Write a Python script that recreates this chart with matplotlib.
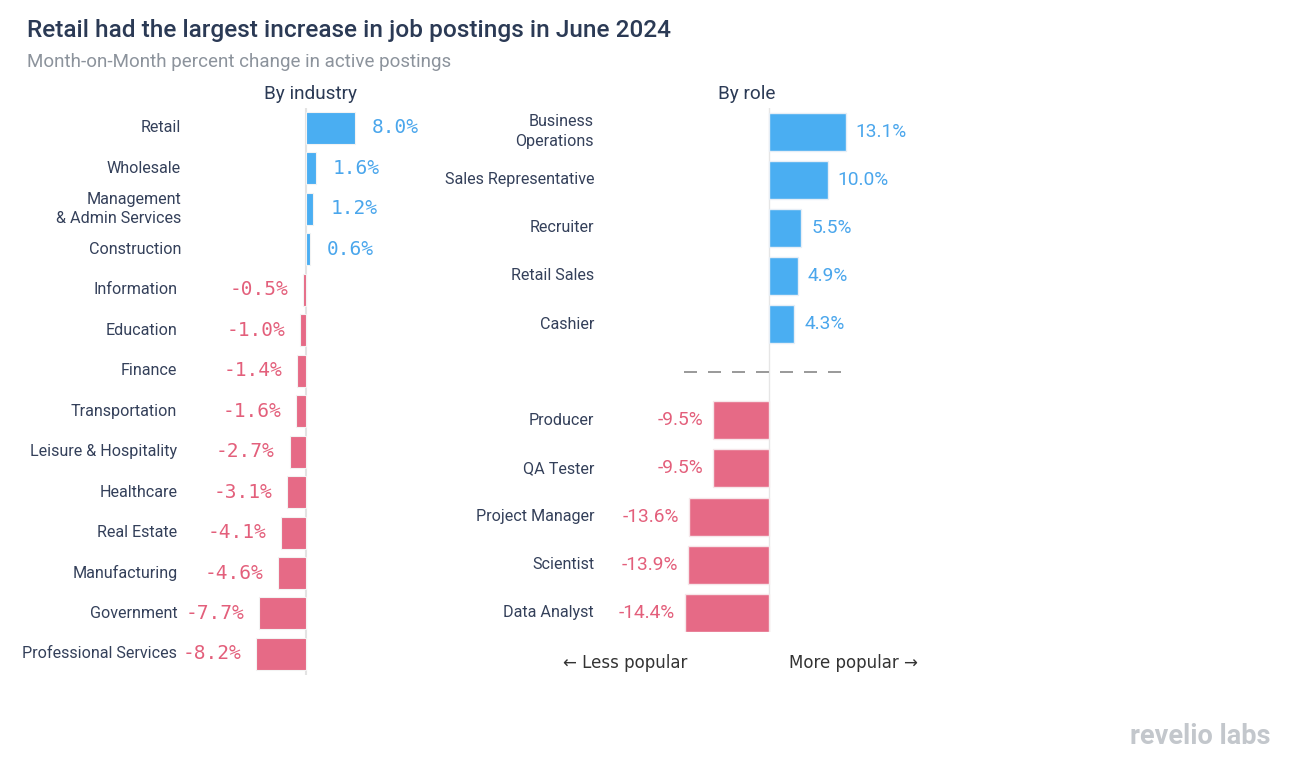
import matplotlib
matplotlib.use("Agg")
import matplotlib.pyplot as plt

# data
industries = ["Retail", "Wholesale", "Management\n& Admin Services", "Construction",
              "Information", "Education", "Finance", "Transportation",
              "Leisure & Hospitality", "Healthcare", "Real Estate", "Manufacturing",
              "Government", "Professional Services"]
industry_change = [8.0, 1.6, 1.2, 0.6, -0.5, -1.0, -1.4, -1.6, -2.7, -3.1, -4.1, -4.6, -7.7, -8.2]

roles_up = ["Business\nOperations", "Sales Representative", "Recruiter", "Retail Sales", "Cashier"]
roles_up_change = [13.1, 10.0, 5.5, 4.9, 4.3]
roles_down = ["Producer", "QA Tester", "Project Manager", "Scientist", "Data Analyst"]
roles_down_change = [-9.5, -9.5, -13.6, -13.9, -14.4]

BLUE = "#4aaef2"
PINK = "#e66a86"
BLUE_TXT = "#4aa6ec"
PINK_TXT = "#e35f7b"
NAVY = "#2b3a55"
LABEL = "#34405a"

W, H = 1293, 763
plt.rcParams['font.family'] = ['Roboto', 'DejaVu Sans']

fig = plt.figure(figsize=(W / 100, H / 100), dpi=100)
fig.patch.set_facecolor("white")


def px_axes(x0, x1, ytop, ybot):
    return fig.add_axes([x0 / W, 1 - ybot / H, (x1 - x0) / W, (ybot - ytop) / H])


fig.text(27 / W, 1 - 30 / H, "Retail had the largest increase in job postings in June 2024",
         fontsize=17.6, fontweight=500, color=NAVY, va="center", ha="left")
fig.text(27 / W, 1 - 62 / H, "Month-on-Month percent change in active postings",
         fontsize=13.5, color="#8c939c", va="center", ha="left")
fig.text(310 / W, 1 - 94 / H, "By industry", fontsize=13.7, color=NAVY, va="center", ha="center")
fig.text(747 / W, 1 - 94 / H, "By role", fontsize=13.7, color=NAVY, va="center", ha="center")

# ---- left panel: by industry
ax1 = px_axes(190, 430, 108, 675)
ax1.set_xlim((190 - 306) / 6.1, (430 - 306) / 6.1)
ax1.set_ylim(13.52, -0.49)
ypos = list(range(len(industries)))
cols = [BLUE if v > 0 else PINK for v in industry_change]
ax1.barh(ypos, industry_change, height=0.79, color=cols, edgecolor="#f3f3f3", linewidth=0.8, zorder=2)
ax1.axvline(0, color="#e3e3e3", lw=1.5, zorder=1)
for y, name, v in zip(ypos, industries, industry_change):
    if v > 0:
        ax1.text(v + 2.8, y, f"{v:.1f}%", color=BLUE_TXT, fontsize=14, family="DejaVu Sans Mono",
                 va="center", ha="left")
        ax1.text(-20.5, y, name, color=LABEL, fontsize=11.6, va="center", ha="right",
                 linespacing=1.35, clip_on=False)
    else:
        ax1.text(v - 2.45, y, f"{v:.1f}%", color=PINK_TXT, fontsize=14, family="DejaVu Sans Mono",
                 va="center", ha="right")
        ax1.text(-21.1, y, name, color=LABEL, fontsize=11.6, va="center", ha="right", clip_on=False)
ax1.axis("off")

# ---- right panel: by role
ax2 = px_axes(600, 960, 108, 632)
ax2.set_xlim((600 - 769) / 5.85, (960 - 769) / 5.85)
ax2.set_ylim(10.4, -0.49)
up_pos = list(range(len(roles_up)))
down_pos = [len(roles_up) + 1 + i for i in range(len(roles_down))]
ax2.axvline(0, color="#e6e6e6", lw=1, zorder=1)
ax2.barh(up_pos, roles_up_change, height=0.79, color=BLUE, edgecolor="#e6eef6", linewidth=1, zorder=2)
ax2.barh(down_pos, roles_down_change, height=0.79, color=PINK, edgecolor="#f6e6ea", linewidth=1, zorder=2)
ax2.plot([-14.5, 12.6], [5, 5], color="#888888", lw=1.2, dashes=(7.8, 6.6), zorder=3)
for y, name, v in zip(up_pos, roles_up, roles_up_change):
    ax2.text(v + 1.7, y, f"{v:.1f}%", color=BLUE_TXT, fontsize=13.8, va="center", ha="left")
    ax2.text(-29.9, y, name, color=LABEL, fontsize=11.6, va="center", ha="right",
             linespacing=1.35, clip_on=False)
for y, name, v in zip(down_pos, roles_down, roles_down_change):
    ax2.text(v - 1.7, y, f"{v:.1f}%", color=PINK_TXT, fontsize=13.8, va="center", ha="right")
    ax2.text(-29.9, y, name, color=LABEL, fontsize=11.6, va="center", ha="right", clip_on=False)
ax2.axis("off")

fig.text(625 / W, 1 - 663 / H, "\u2190 Less popular", fontsize=12, family="DejaVu Sans",
         color="#333333", va="center", ha="center")
fig.text(853 / W, 1 - 663 / H, "More popular \u2192", fontsize=12, family="DejaVu Sans",
         color="#333333", va="center", ha="center")

fig.text(1200 / W, 1 - 737 / H, "revelio labs", fontsize=19.5, fontweight="bold",
         color="#c3c7cc", va="center", ha="center")

fig.savefig("out.png", dpi=100)
